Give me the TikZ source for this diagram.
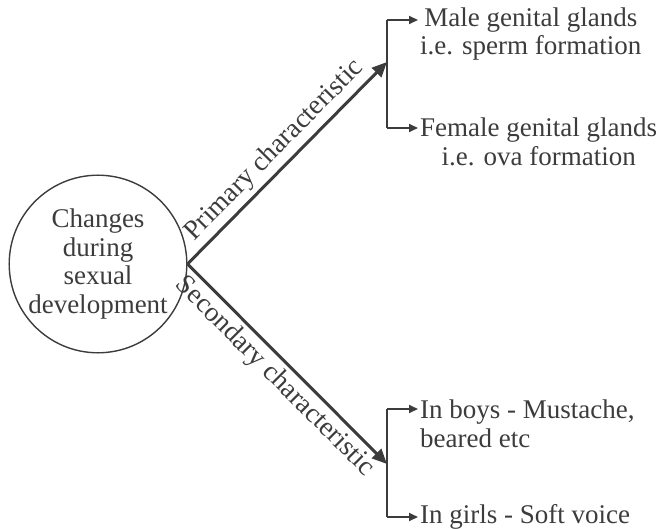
\documentclass[tikz,border=0pt]{standalone}
\usepackage{fontspec}
\setmainfont{Liberation Serif}
\usetikzlibrary{positioning}
\usetikzlibrary{arrows.meta}
\tikzset{
  font={\fontsize{27pt}{28.5pt}\selectfont}
}
\definecolor{darkGray}{HTML}{3C3C3C}
\def\lineColor{darkGray}
\def\bracketX{387}
\tikzstyle{centre}=[circle,draw=\lineColor,line width=1.4pt,minimum size=168pt,inner sep=0pt,align=center,text=\lineColor]
\tikzstyle{branch}=[-{Triangle[length=15pt,width=13pt]},line width=3pt,draw=\lineColor]
\tikzstyle{bracket}=[line width=2.5pt,draw=\lineColor]
\tikzstyle{leaf}=[-{Triangle[length=9pt,width=8pt]},line width=2pt,draw=\lineColor]
\tikzstyle{item}=[anchor=west,inner sep=2pt,text=\lineColor]
\tikzstyle{branchlabel}=[font=\fontsize{27.5pt}{28pt}\selectfont,sloped,text=\lineColor,inner sep=4pt]

\begin{document}
\begin{tikzpicture}[x=1pt,y=-1pt]
    \useasboundingbox (0,0) rectangle (658,529);

    \node[centre] (changes) at (98,264) {Changes\\during\\sexual\\development};

    % primary branch
    \coordinate (prim-top) at (\bracketX,20);
    \coordinate (prim-bot) at (\bracketX,128);
    \coordinate (prim-mid) at (\bracketX,62);
    \node[item,align=center] (male) at (418,34) {Male genital glands\\i.e. sperm formation};
    \node[item,align=center] (female) at (418,142) {Female genital glands\\i.e. ova formation};

    % secondary branch
    \coordinate (sec-top) at (\bracketX,409);
    \coordinate (sec-bot) at (\bracketX,517);
    \coordinate (sec-mid) at (\bracketX,464);
    \node[item,align=left] (boys) at (418,424) {In boys - Mustache,\\beared etc};
    \node[item] (girls) at (418,517) {In girls - Soft voice};

    \draw[branch] (changes.east) -- (prim-mid) node[branchlabel,pos=0.5,above] {Primary characteristic};
    \draw[branch] (changes.east) -- (sec-mid) node[branchlabel,pos=0.5,below] {Secondary characteristic};

    \draw[bracket] (prim-top) -- (prim-bot);
    \draw[bracket] (sec-top) -- (sec-bot);

    \draw[leaf] (prim-top) -- (male.west |- prim-top);
    \draw[leaf] (prim-bot) -- (female.west |- prim-bot);
    \draw[leaf] (sec-top) -- (boys.west |- sec-top);
    \draw[leaf] (sec-bot) -- (girls.west |- sec-bot);
\end{tikzpicture}
\end{document}
